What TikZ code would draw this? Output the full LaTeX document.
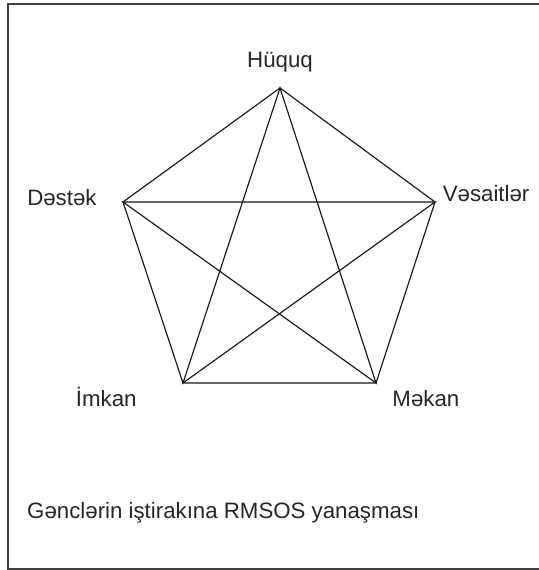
\documentclass[tikz,border=0pt]{standalone}
\usepackage{fontspec}
\setmainfont{Liberation Sans}
\usetikzlibrary{positioning,calc}
\tikzset{
    corner/.style={
        inner sep=0pt,
        minimum size=0pt
    },
    point_label/.style={
        font=\fontsize{19}{22}\selectfont,
        text=black!85,
        inner sep=0pt
    },
    edge_line/.style={
        draw=black!90,
        line width=1pt
    },
    frame/.style={
        draw=black!75,
        line width=1.1pt
    },
}

\begin{document}
\begin{tikzpicture}[x=0.03cm, y=-0.03cm]
    \useasboundingbox (0,0) rectangle (538,570);
    \draw[frame] (8,4) rectangle (560,569);

    % pentagon corners
    \node[corner] (huquq) at (280,88) {};
    \node[corner] (vesait) at (435,202) {};
    \node[corner] (mekan) at (376,383) {};
    \node[corner] (imkan) at (183,383) {};
    \node[corner] (destek) at (123,202) {};

    \node[point_label, above=0.62cm of huquq, anchor=base] (huquq_txt) {Hüquq};
    \node[point_label, right=0.22cm of vesait, anchor=base west] (vesait_txt) {Vəsaitlər};
    \node[point_label, below right=0.7cm and 0.48cm of mekan, anchor=base west] (mekan_txt) {Məkan};
    \node[point_label, below left=0.7cm and 1.38cm of imkan, anchor=base east] (imkan_txt) {İmkan};
    \node[point_label, left=0.78cm of destek, anchor=base east, yshift=-0.12cm] (destek_txt) {Dəstək};

    % outer ring
    \draw[edge_line] (huquq.center) -- (vesait.center) -- (mekan.center) -- (imkan.center) -- (destek.center) -- cycle;
    % inner star
    \draw[edge_line] (huquq.center) -- (mekan.center) -- (destek.center) -- (vesait.center) -- (imkan.center) -- cycle;

    \node[point_label, anchor=base west] (caption) at (27,518) {Gənclərin iştirakına RMSOS yanaşması};
\end{tikzpicture}
\end{document}
